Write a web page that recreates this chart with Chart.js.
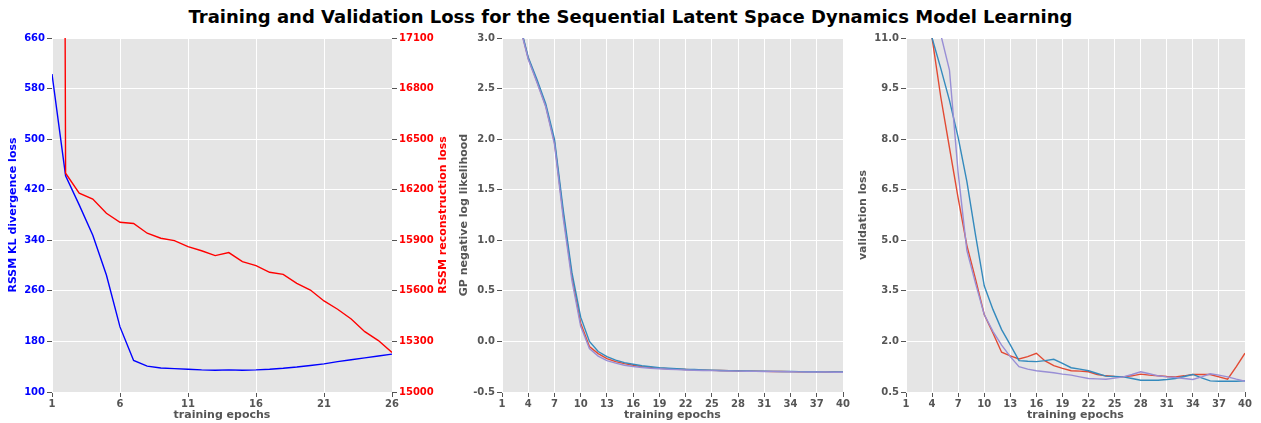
<!DOCTYPE html>
<html>
<head>
<meta charset="utf-8">
<title>Sequential latent space dynamics - losses</title>
<script src="https://cdn.jsdelivr.net/npm/chart.js@4.4.1/dist/chart.umd.min.js"></script>
<style>
  body { margin: 0; background: #fff; width: 1261px; height: 423px; overflow: hidden; position: relative; font-family: "DejaVu Sans", sans-serif; }
  #title { position: absolute; top: 6px; left: 0; width: 1261px; text-align: center; font-weight: bold; font-size: 18px; color: #000; }
  .panel { position: absolute; top: 0; height: 423px; }
</style>
</head>
<body>
<div id="title">Training and Validation Loss for the Sequential Latent Space Dynamics Model Learning</div>
<div class="panel" style="left:0;width:452px"><canvas id="rssmChart"></canvas></div>
<div class="panel" style="left:450px;width:410px"><canvas id="gpChart"></canvas></div>
<div class="panel" style="left:852px;width:409px"><canvas id="valChart"></canvas></div>
<script>
// ---------- data ----------
const rssmEpochs = [1, 2, 3, 4, 5, 6, 7, 8, 9, 10, 11, 12, 13, 14, 15, 16, 17, 18, 19, 20, 21, 22, 23, 24, 25, 26];
const klLoss = [603, 442, 396, 348, 285, 203, 150, 141, 138, 137, 136, 135, 134.5, 135, 134.5, 135, 136, 137.5, 139.5, 142, 144.5, 148, 151, 154, 157, 160];
const reconLoss = [40000, 16298, 16179, 16145, 16060, 16007, 16000, 15942, 15912, 15898, 15862, 15838, 15809, 15827, 15773, 15750, 15710, 15698, 15645, 15605, 15540, 15491, 15433, 15358, 15305, 15234];

const gpEpochs = [1, 2, 3, 4, 5, 6, 7, 8, 9, 10, 11, 12, 13, 14, 15, 16, 17, 18, 19, 20,
  21, 22, 23, 24, 25, 26, 27, 28, 29, 30, 31, 32, 33, 34, 35, 36, 37, 38, 39, 40];
const gpNllA = [4.2, 3.7, 3.14, 2.80, 2.57, 2.33, 1.97, 1.26, 0.64, 0.18, -0.05, -0.12, -0.17, -0.2, -0.22, -0.235, -0.25, -0.258, -0.265, -0.27,
  -0.274, -0.278, -0.281, -0.284, -0.286, -0.288, -0.29, -0.292, -0.294, -0.295, -0.296, -0.297, -0.298, -0.299, -0.3, -0.301, -0.301, -0.302, -0.303, -0.304];
const gpNllB = [4.2, 3.7, 3.15, 2.81, 2.59, 2.35, 2.0, 1.3, 0.68, 0.24, 0.0, -0.1, -0.15, -0.185, -0.21, -0.225, -0.24, -0.25, -0.26, -0.265,
  -0.27, -0.275, -0.278, -0.281, -0.284, -0.287, -0.289, -0.291, -0.293, -0.294, -0.295, -0.296, -0.297, -0.298, -0.299, -0.3, -0.3, -0.301, -0.302, -0.303];
const gpNllC = [4.2, 3.7, 3.13, 2.79, 2.56, 2.32, 1.95, 1.22, 0.6, 0.15, -0.07, -0.145, -0.19, -0.215, -0.235, -0.248, -0.258, -0.265, -0.27, -0.275,
  -0.279, -0.282, -0.285, -0.287, -0.289, -0.291, -0.293, -0.294, -0.295, -0.296, -0.297, -0.298, -0.299, -0.3, -0.301, -0.302, -0.302, -0.303, -0.304, -0.305];

const valLossA = [16.0, 14.6, 12.8, 11.0, 9.25, 7.75, 6.25, 4.85, 3.85, 2.8, 2.25, 1.68, 1.57, 1.48, 1.55, 1.65, 1.42, 1.28, 1.2, 1.13,
  1.12, 1.1, 1.02, 0.98, 0.96, 0.95, 0.98, 1.03, 1.0, 0.98, 0.96, 0.95, 0.98, 1.02, 1.02, 1.02, 0.95, 0.88, 1.25, 1.65];
const valLossB = [15.5, 14.0, 12.5, 11.0, 10.1, 9.15, 8.05, 6.75, 5.15, 3.65, 2.95, 2.35, 1.9, 1.43, 1.41, 1.4, 1.43, 1.47, 1.35, 1.22,
  1.18, 1.13, 1.05, 0.97, 0.96, 0.95, 0.9, 0.85, 0.85, 0.85, 0.87, 0.9, 0.96, 1.02, 0.92, 0.83, 0.82, 0.82, 0.82, 0.83];
const valLossC = [17.0, 15.5, 14.2, 12.8, 11.1, 10.05, 7.0, 4.7, 3.72, 2.8, 2.3, 1.89, 1.55, 1.25, 1.18, 1.13, 1.1, 1.07, 1.03, 1.0,
  0.95, 0.9, 0.89, 0.88, 0.91, 0.95, 1.02, 1.1, 1.04, 0.98, 0.95, 0.93, 0.9, 0.87, 0.95, 1.04, 1.0, 0.95, 0.88, 0.82];

// tick positions
const rssmXTicks = [1, 6, 11, 16, 21, 26];
const klTicks = [100, 180, 260, 340, 420, 500, 580, 660];
const reconTicks = [15000, 15300, 15600, 15900, 16200, 16500, 16800, 17100];
const epochTicks = [1, 4, 7, 10, 13, 16, 19, 22, 25, 28, 31, 34, 37, 40];
const gpTicks = [-0.5, 0, 0.5, 1.0, 1.5, 2.0, 2.5, 3.0];
const valTicks = [0.5, 2.0, 3.5, 5.0, 6.5, 8.0, 9.5, 11.0];

// ---------- style ----------
const FONT = "DejaVu Sans";
const GREY = "#555555";
const PANEL_BG = "#E5E5E5";
const C_RED = "#E24A33", C_BLUE = "#348ABD", C_PURPLE = "#988ED5";

Chart.defaults.font.family = FONT;
Chart.defaults.animation = false;

const panelBackground = {
  id: "panelBackground",
  beforeDraw(chart) {
    const { ctx, chartArea: a } = chart;
    ctx.save();
    ctx.fillStyle = PANEL_BG;
    ctx.fillRect(a.left, a.top, a.right - a.left, a.bottom - a.top);
    ctx.restore();
  }
};

// right-hand axis title, rotated the same way as the left one
const rightTitle = {
  id: "rightTitle",
  afterDraw(chart, args, opts) {
    if (!opts.text) return;
    const { ctx, chartArea: a } = chart;
    ctx.save();
    ctx.translate(opts.x, (a.top + a.bottom) / 2);
    ctx.rotate(-Math.PI / 2);
    ctx.font = "bold 11px " + FONT;
    ctx.fillStyle = opts.color;
    ctx.textAlign = "center";
    ctx.textBaseline = "middle";
    ctx.fillText(opts.text, 0, 0);
    ctx.restore();
  }
};

const pts = (xs, ys) => xs.map((x, i) => ({ x: x, y: ys[i] }));
const fixTicks = (vals) => (s) => { s.ticks = vals.map(v => ({ value: v })); };

function xAxis(min, max, ticks) {
  return {
    type: "linear", min: min, max: max,
    afterBuildTicks: fixTicks(ticks),
    afterFit: (s) => { s.height = 31; },
    grid: { color: "#ffffff", lineWidth: 1, tickLength: 5, tickColor: GREY },
    border: { display: false },
    ticks: { color: GREY, font: { size: 10, weight: "bold" }, padding: 1, autoSkip: false, maxRotation: 0 },
    title: { display: true, text: "training epochs", color: GREY, font: { size: 11, weight: "bold" }, padding: { top: 0, bottom: 1 } }
  };
}

function yAxis(min, max, ticks, width, color, title, titlePad, fmt) {
  return {
    type: "linear", position: "left", min: min, max: max,
    afterBuildTicks: fixTicks(ticks),
    afterFit: (s) => { s.width = width; },
    grid: { color: "#ffffff", lineWidth: 1, tickLength: 5, tickColor: GREY },
    border: { display: false },
    ticks: { color: color, font: { size: 10, weight: "bold" }, padding: 2, autoSkip: false, callback: fmt },
    title: { display: true, text: title, color: color, font: { size: 11, weight: "bold" }, padding: { top: titlePad, bottom: 0 } }
  };
}

// lower order is painted last, so later series sit on top
function line(data, color, order, axis) {
  return { data: data, borderColor: color, borderWidth: 1.4, pointRadius: 0, fill: false, tension: 0, order: order, yAxisID: axis || "y" };
}

const baseOptions = {
  responsive: true,
  maintainAspectRatio: false,
  events: [],
  plugins: { legend: { display: false }, tooltip: { enabled: false } }
};

// ---------- RSSM losses (two y axes) ----------
new Chart(document.getElementById("rssmChart"), {
  type: "line",
  data: {
    datasets: [
      line(pts(rssmEpochs, klLoss), "#0000ff", 2, "y"),
      line(pts(rssmEpochs, reconLoss), "#ff0000", 1, "y2")
    ]
  },
  options: {
    ...baseOptions,
    layout: { padding: { top: 38, right: 0, bottom: 0, left: 0 } },
    plugins: { ...baseOptions.plugins, rightTitle: { text: "RSSM reconstruction loss", color: "#ff0000", x: 443 } },
    scales: {
      x: xAxis(1, 26, rssmXTicks),
      y: yAxis(100, 660, klTicks, 52, "#0000ff", "RSSM KL divergence loss", 7, v => String(v)),
      y2: {
        type: "linear", position: "right", min: 15000, max: 17100,
        afterBuildTicks: fixTicks(reconTicks),
        afterFit: (s) => { s.width = 60; },
        grid: { drawOnChartArea: false, tickLength: 5, tickColor: GREY },
        border: { display: false },
        ticks: { color: "#ff0000", font: { size: 10, weight: "bold" }, padding: 2, autoSkip: false, callback: v => String(v) }
      }
    }
  },
  plugins: [panelBackground, rightTitle]
});

// ---------- GP negative log likelihood ----------
new Chart(document.getElementById("gpChart"), {
  type: "line",
  data: {
    datasets: [
      line(pts(gpEpochs, gpNllA), C_RED, 3),
      line(pts(gpEpochs, gpNllB), C_BLUE, 2),
      line(pts(gpEpochs, gpNllC), C_PURPLE, 1)
    ]
  },
  options: {
    ...baseOptions,
    layout: { padding: { top: 38, right: 17, bottom: 0, left: 0 } },
    scales: {
      x: xAxis(1, 40, epochTicks),
      y: yAxis(-0.5, 3.0, gpTicks, 52, GREY, "GP negative log likelihood", 8, v => v.toFixed(1))
    }
  },
  plugins: [panelBackground]
});

// ---------- validation loss ----------
new Chart(document.getElementById("valChart"), {
  type: "line",
  data: {
    datasets: [
      line(pts(gpEpochs, valLossA), C_RED, 3),
      line(pts(gpEpochs, valLossB), C_BLUE, 2),
      line(pts(gpEpochs, valLossC), C_PURPLE, 1)
    ]
  },
  options: {
    ...baseOptions,
    layout: { padding: { top: 38, right: 16, bottom: 0, left: 0 } },
    scales: {
      x: xAxis(1, 40, epochTicks),
      y: yAxis(0.5, 11.0, valTicks, 54, GREY, "validation loss", 5, v => v.toFixed(1))
    }
  },
  plugins: [panelBackground]
});
</script>
</body>
</html>
